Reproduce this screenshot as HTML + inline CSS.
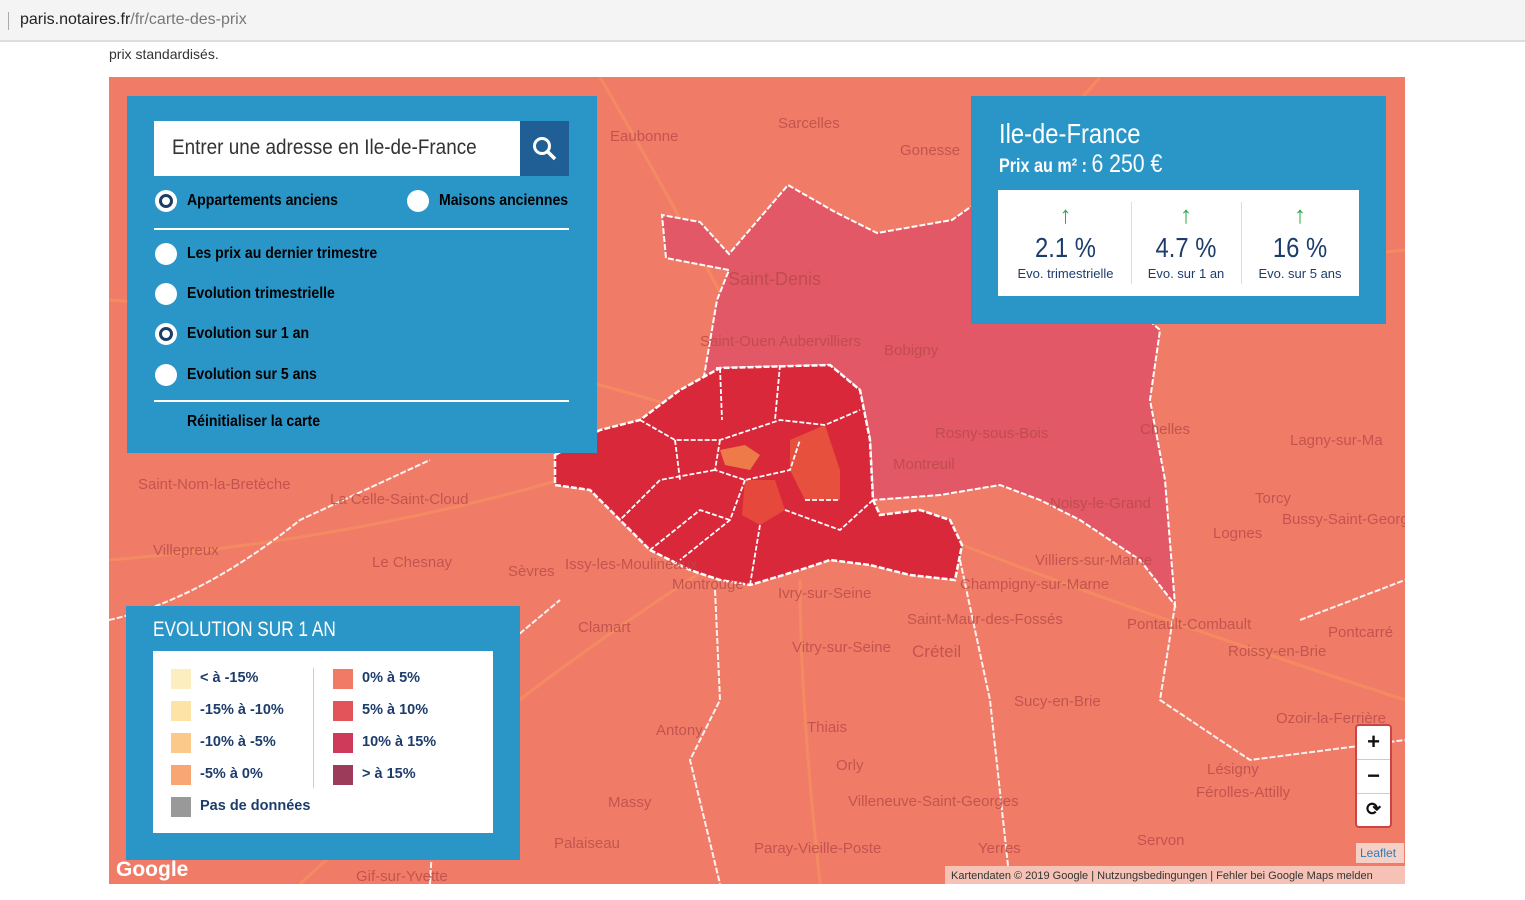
<!DOCTYPE html>
<html><head><meta charset="utf-8">
<style>
*{margin:0;padding:0;box-sizing:border-box}
body{width:1525px;height:900px;background:#fff;position:relative;overflow:hidden;font-family:"Liberation Sans",sans-serif;}
.abs{position:absolute}
.bar{left:0;top:0;width:1525px;height:42px;background:#f4f4f4;border-bottom:2px solid #ddd}
.url{left:20px;top:11px;font-size:16px;color:#222}
.url span{color:#777}
.panel{background:#2a96c8;color:#fff}
.rad{position:absolute;width:22px;height:22px;border-radius:50%;background:#fff}
.rad.on::after{content:"";position:absolute;left:4px;top:4px;width:14px;height:14px;border-radius:50%;border:3px solid #1d3d66;box-sizing:border-box}
.opt{position:absolute;font-size:16px;font-weight:bold;transform:scaleX(.88);transform-origin:left}
.leg{position:absolute;font-size:14.5px;font-weight:bold;color:#1c3d6c}
.sw{position:absolute;width:20px;height:20px}
.lab{fill:#b84a48;font-family:"Liberation Sans",sans-serif;font-size:15px;opacity:.8}
.num{position:absolute;text-align:center;color:#1c3d6c;font-size:28px;transform:scaleX(.85)}
.arr{position:absolute;text-align:center;color:#2ca84a;font-size:24px;font-weight:bold}
</style></head><body>
<div class="abs bar"></div>
<div class="abs" style="left:8px;top:12px;width:1px;height:18px;background:#aaa"></div>
<div class="abs url">paris.notaires.fr<span>/fr/carte-des-prix</span></div>
<div class="abs" style="left:109px;top:46px;font-size:14px;color:#333">prix standardisés.</div>

<svg class="abs" style="left:109px;top:77px" width="1296" height="807" viewBox="109 77 1296 807">
<rect x="109" y="77" width="1296" height="807" fill="#f07c68"/>
<g stroke="#f5905f" stroke-width="3" fill="none" opacity=".7">
<path d="M109 300 Q400 320 720 420 M720 420 Q900 300 1405 250 M300 884 Q500 700 720 560 M1405 700 Q1100 600 950 540 M600 77 Q700 250 760 370 M1100 77 Q950 250 860 380 M109 560 Q350 540 560 480 M820 884 Q800 700 800 580"/>
</g>
<path d="M666 258 L662 215 L700 222 L729 254 L788 185 L835 212 L877 233 L952 220 L969 208 L1000 190 L1160 330 L1150 400 L1165 480 L1175 605 L1140 560 L1080 520 L1040 500 L1000 485 L940 495 L873 500 L870 440 L860 390 L830 365 L720 368 L717 368 L708 418 L700 400 L717 300 L729 270 Z" fill="#e25866" stroke="#fff" stroke-width="2" stroke-dasharray="6 2"/>
<path d="M555 455 L600 430 L640 420 L680 390 L720 368 L830 365 L860 390 L870 440 L873 500 L880 515 L920 510 L950 520 L962 545 L955 580 L910 575 L870 565 L830 560 L800 570 L750 585 L720 580 L690 570 L650 550 L620 520 L590 490 L555 485 Z" fill="#d8283a" stroke="#fff" stroke-width="2.5" stroke-dasharray="6 2"/>
<path d="M720 450 L745 445 L760 455 L750 470 L725 465 Z" fill="#ee7a4a"/>
<path d="M790 440 L825 425 L840 470 L840 500 L805 500 L790 470 Z" fill="#e8503e"/>
<path d="M745 480 L775 480 L785 510 L760 525 L742 515 Z" fill="#e6493c"/>
<g stroke="#fff" stroke-width="1.8" fill="none" stroke-dasharray="5 2">
<path d="M720 368 L722 420 M780 365 L775 420 M640 420 L675 440 L720 440 L780 420 L825 425 L860 410 M675 440 L680 480 M720 440 L715 470 L745 480 L790 470 L800 440 M715 470 L660 480 L620 520 M745 480 L730 520 L680 560 M760 525 L750 585 M785 510 L840 530 L873 500 M805 500 L840 500 M730 520 L700 510 L650 550"/>
</g>
<path d="M109 620 Q200 600 300 520 L430 460 M430 884 L440 700 L560 600 M715 590 L720 700 L690 760 L720 884 M960 560 L990 700 L1010 884 M1175 605 L1160 700 L1250 760 L1405 740 M1300 620 L1405 580" stroke="#fff" stroke-width="2" fill="none" stroke-dasharray="6 2" opacity=".9"/>
<g class="lab">
<text x="778" y="128">Sarcelles</text><text x="610" y="141">Eaubonne</text><text x="900" y="155">Gonesse</text>
<text x="728" y="285" font-size="18">Saint-Denis</text><text x="700" y="346">Saint-Ouen Aubervilliers</text>
<text x="884" y="355">Bobigny</text><text x="935" y="438">Rosny-sous-Bois</text><text x="893" y="469">Montreuil</text>
<text x="1140" y="434">Chelles</text><text x="1290" y="445">Lagny-sur-Ma</text><text x="1050" y="508">Noisy-le-Grand</text>
<text x="1255" y="503">Torcy</text><text x="1282" y="524">Bussy-Saint-George</text><text x="1213" y="538">Lognes</text>
<text x="138" y="489">Saint-Nom-la-Bretèche</text><text x="330" y="504">La Celle-Saint-Cloud</text>
<text x="153" y="555">Villepreux</text><text x="372" y="567">Le Chesnay</text><text x="508" y="576">Sèvres</text>
<text x="565" y="569">Issy-les-Moulineaux</text><text x="672" y="589">Montrouge</text><text x="778" y="598">Ivry-sur-Seine</text>
<text x="1035" y="565">Villiers-sur-Marne</text><text x="960" y="589">Champigny-sur-Marne</text>
<text x="578" y="632">Clamart</text><text x="792" y="652">Vitry-sur-Seine</text><text x="907" y="624">Saint-Maur-des-Fossés</text>
<text x="912" y="657" font-size="17">Créteil</text><text x="1127" y="629">Pontault-Combault</text><text x="1328" y="637">Pontcarré</text>
<text x="1228" y="656">Roissy-en-Brie</text><text x="1014" y="706">Sucy-en-Brie</text><text x="1276" y="723">Ozoir-la-Ferrière</text>
<text x="656" y="735">Antony</text><text x="807" y="732">Thiais</text><text x="836" y="770">Orly</text>
<text x="1207" y="774">Lésigny</text><text x="1196" y="797">Férolles-Attilly</text><text x="608" y="807">Massy</text>
<text x="848" y="806">Villeneuve-Saint-Georges</text><text x="554" y="848">Palaiseau</text><text x="754" y="853">Paray-Vieille-Poste</text>
<text x="978" y="853">Yerres</text><text x="1137" y="845">Servon</text><text x="356" y="881">Gif-sur-Yvette</text>
</g>
<text x="116" y="876" font-size="21" font-weight="bold" fill="#fff" font-family="Liberation Sans">Google</text>
<rect x="945" y="866" width="460" height="18" fill="#f6c2b6"/>
<text x="951" y="879" font-size="11" fill="#333" font-family="Liberation Sans">Kartendaten © 2019 Google  |  Nutzungsbedingungen  |  Fehler bei Google Maps melden</text>
<rect x="1356" y="843" width="48" height="20" fill="#f6d0c6"/>
<text x="1360" y="857" font-size="12" fill="#2b7cb8" font-family="Liberation Sans">Leaflet</text>
</svg>

<div class="abs panel" style="left:127px;top:96px;width:470px;height:357px"></div>
<div class="abs" style="left:154px;top:121px;width:366px;height:55px;background:#fff"></div>
<div class="abs" style="left:172px;top:136px;font-size:21px;color:#333;transform:scaleX(.9);transform-origin:left">Entrer une adresse en Ile-de-France</div>
<div class="abs" style="left:520px;top:121px;width:49px;height:55px;background:#1f5f95"></div>
<svg class="abs" style="left:530px;top:134px" width="30" height="30"><circle cx="12" cy="12" r="7.5" stroke="#fff" stroke-width="3" fill="none"/><line x1="17" y1="17" x2="25" y2="25" stroke="#fff" stroke-width="3.5"/></svg>
<div class="rad on" style="left:155px;top:190px"></div><div class="opt" style="left:187px;top:192px">Appartements anciens</div>
<div class="rad" style="left:407px;top:190px"></div><div class="opt" style="left:439px;top:192px">Maisons anciennes</div>
<div class="abs" style="left:154px;top:228px;width:415px;height:2px;background:#fff"></div>
<div class="rad" style="left:155px;top:243px"></div><div class="opt" style="left:187px;top:245px">Les prix au dernier trimestre</div>
<div class="rad" style="left:155px;top:283px"></div><div class="opt" style="left:187px;top:285px">Evolution trimestrielle</div>
<div class="rad on" style="left:155px;top:323px"></div><div class="opt" style="left:187px;top:325px">Evolution sur 1 an</div>
<div class="rad" style="left:155px;top:364px"></div><div class="opt" style="left:187px;top:366px">Evolution sur 5 ans</div>
<div class="abs" style="left:154px;top:400px;width:415px;height:2px;background:#fff"></div>
<div class="opt" style="left:187px;top:413px">Réinitialiser la carte</div>

<div class="abs panel" style="left:971px;top:96px;width:415px;height:228px"></div>
<div class="abs" style="left:999px;top:118px;font-size:28px;color:#fff;transform:scaleX(.85);transform-origin:left">Ile-de-France</div>
<div class="abs" style="left:999px;top:150px;font-size:19px;font-weight:bold;color:#fff;transform:scaleX(.85);transform-origin:left">Prix au m² : <span style="font-size:25px;font-weight:normal">6 250 €</span></div>
<div class="abs" style="left:998px;top:190px;width:361px;height:106px;background:#fff"></div>
<div class="abs" style="left:1131px;top:202px;width:1px;height:82px;background:#ddd"></div>
<div class="abs" style="left:1241px;top:202px;width:1px;height:82px;background:#ddd"></div>
<div class="arr" style="left:998px;top:202px;width:135px">↑</div>
<div class="arr" style="left:1131px;top:202px;width:110px">↑</div>
<div class="arr" style="left:1241px;top:202px;width:118px">↑</div>
<div class="num" style="left:998px;top:232px;width:135px">2.1 %</div>
<div class="num" style="left:1131px;top:232px;width:110px">4.7 %</div>
<div class="num" style="left:1241px;top:232px;width:118px">16 %</div>
<div class="abs" style="left:998px;top:266px;width:135px;text-align:center;color:#1c3d6c;font-size:13px">Evo. trimestrielle</div>
<div class="abs" style="left:1131px;top:266px;width:110px;text-align:center;color:#1c3d6c;font-size:13px">Evo. sur 1 an</div>
<div class="abs" style="left:1241px;top:266px;width:118px;text-align:center;color:#1c3d6c;font-size:13px">Evo. sur 5 ans</div>

<div class="abs panel" style="left:126px;top:606px;width:394px;height:254px"></div>
<div class="abs" style="left:153px;top:618px;font-size:21px;color:#fff;transform:scaleX(.82);transform-origin:left">EVOLUTION SUR 1 AN</div>
<div class="abs" style="left:153px;top:651px;width:340px;height:182px;background:#fff"></div>
<div class="abs" style="left:313px;top:668px;width:1px;height:120px;background:#ccc"></div>
<div class="sw" style="left:171px;top:669px;background:#fdeec0"></div><div class="leg" style="left:200px;top:670px">&lt; à -15%</div>
<div class="sw" style="left:171px;top:701px;background:#fde3a6"></div><div class="leg" style="left:200px;top:702px">-15% à -10%</div>
<div class="sw" style="left:171px;top:733px;background:#fbc98a"></div><div class="leg" style="left:200px;top:734px">-10% à -5%</div>
<div class="sw" style="left:171px;top:765px;background:#f8a774"></div><div class="leg" style="left:200px;top:766px">-5% à 0%</div>
<div class="sw" style="left:171px;top:797px;background:#999"></div><div class="leg" style="left:200px;top:798px">Pas de données</div>
<div class="sw" style="left:333px;top:669px;background:#f07a66"></div><div class="leg" style="left:362px;top:670px">0% à 5%</div>
<div class="sw" style="left:333px;top:701px;background:#e2535a"></div><div class="leg" style="left:362px;top:702px">5% à 10%</div>
<div class="sw" style="left:333px;top:733px;background:#cf3a5a"></div><div class="leg" style="left:362px;top:734px">10% à 15%</div>
<div class="sw" style="left:333px;top:765px;background:#9c3c5a"></div><div class="leg" style="left:362px;top:766px">&gt; à 15%</div>

<div class="abs" style="left:1355px;top:724px;width:37px;height:104px;background:#fff;border:2px solid #c44;border-radius:4px"></div>
<div class="abs" style="left:1357px;top:759px;width:33px;height:1px;background:#ccc"></div>
<div class="abs" style="left:1357px;top:793px;width:33px;height:1px;background:#ccc"></div>
<div class="abs" style="left:1355px;top:729px;width:37px;text-align:center;font-size:22px;font-weight:bold;color:#111">+</div>
<div class="abs" style="left:1355px;top:763px;width:37px;text-align:center;font-size:22px;font-weight:bold;color:#111">−</div>
<div class="abs" style="left:1355px;top:799px;width:37px;text-align:center;font-size:18px;font-weight:bold;color:#111">⟳</div>
</body></html>
